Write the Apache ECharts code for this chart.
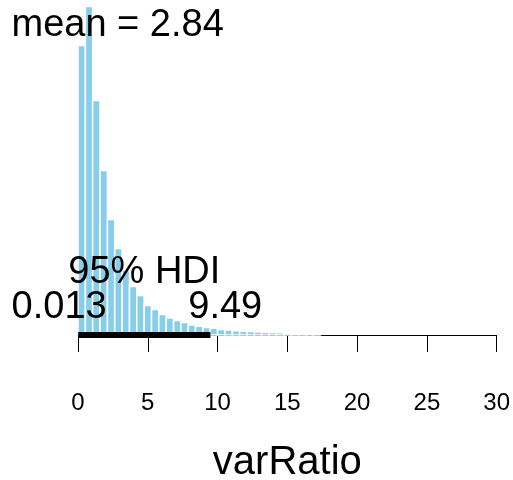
<!DOCTYPE html>
<html>
<head>
<meta charset="utf-8">
<script src="https://cdn.jsdelivr.net/npm/echarts@6/dist/echarts.min.js"></script>
<style>html,body{margin:0;padding:0;background:#fff;}#chart{width:513px;height:480px;}</style>
</head>
<body>
<div id="chart"></div>
<script>
// Histogram bin edges (varRatio)
var breaks = [0, 0.53, 1.05, 1.58, 2.11, 2.63, 3.16, 3.69, 4.21, 4.74, 5.27, 5.79, 6.32, 6.85, 7.37, 7.90, 8.42, 8.95, 9.48, 10.00, 10.53, 11.06, 11.58, 12.11, 12.64, 13.16, 13.69, 14.22, 14.74, 15.27, 15.80, 16.32, 16.85, 17.37];
// Relative bar heights
var heights = [289.5, 328.5, 234.5, 164.5, 115.5, 86.5, 65, 48.5, 39.5, 29.5, 25.5, 20.5, 17, 14.5, 12.5, 10, 8.7, 7.5, 6.7, 5.6, 4.9, 4.3, 3.8, 3.4, 3.0, 2.7, 2.4, 2.2, 1.7, 1.3, 1.0, 0.8, 0.6];
var xTicks = [0, 5, 10, 15, 20, 25, 30];
var meanVal = 2.84;
var hdi = [0.013, 9.49];
var hdiLabels = ["0.013", "9.49"];
var meanText = "mean = 2.84";
var hdiText = "95% HDI";
var xName = "varRatio";

var histData = heights.map(function (h, i) { return [breaks[i], breaks[i + 1], h]; });

var chart = echarts.init(document.getElementById('chart'), null, {renderer: 'canvas'});
var FONT = '"Liberation Sans", Arial, Helvetica, sans-serif';
var BIG = '38px ' + FONT;
chart.setOption({
  animation: false,
  backgroundColor: '#ffffff',
  grid: {left: 78, right: 15, top: 0, bottom: 145, containLabel: false},
  xAxis: {
    type: 'value', min: 0, max: 30, interval: 5, offset: 13,
    axisLine: {show: true, lineStyle: {color: '#000', width: 1}},
    axisTick: {show: true, length: 17, lineStyle: {color: '#000', width: 1}},
    axisLabel: {show: true, margin: 43, fontSize: 24, color: '#000', fontFamily: FONT,
      formatter: function (v) { return xTicks.indexOf(v) >= 0 ? String(v) : ''; }},
    splitLine: {show: false}
  },
  yAxis: {type: 'value', min: 0, max: 335, show: false, splitLine: {show: false}},
  series: [
    {
      type: 'custom',
      data: histData,
      encode: {x: [0, 1], y: 2},
      renderItem: function (params, api) {
        var p0 = api.coord([api.value(0), api.value(2)]);
        var p1 = api.coord([api.value(1), 0]);
        return {
          type: 'rect',
          shape: {x: p0[0], y: p0[1], width: p1[0] - p0[0], height: p1[1] - p0[1]},
          style: {fill: '#87CEEB', stroke: '#ffffff', lineWidth: 1.5}
        };
      },
      z: 2
    },
    {
      type: 'line',
      data: [[hdi[0], 0], [hdi[1], 0]],
      symbol: 'none',
      lineStyle: {color: '#000', width: 6, cap: 'butt'},
      z: 3
    }
  ]
});

function px(v) { return chart.convertToPixel({gridIndex: 0}, [v, 0])[0]; }
var mctx = document.createElement('canvas').getContext('2d');
mctx.font = BIG;
var wLo = mctx.measureText(hdiLabels[0]).width;
var wHi = mctx.measureText(hdiLabels[1]).width;
var hdiMid = (hdi[0] + hdi[1]) / 2;
var axisMid = (0 + 30) / 2;
chart.setOption({
  graphic: [
    {type: 'text', x: px(meanVal), y: 26, z: 10,
      style: {text: meanText, font: BIG, fill: '#000', align: 'center', verticalAlign: 'middle'}},
    {type: 'text', x: px(hdiMid), y: 273, z: 10,
      style: {text: hdiText, font: BIG, fill: '#000', align: 'center', verticalAlign: 'middle'}},
    {type: 'text', x: px(hdi[0]) - 0.7 * wLo, y: 308, z: 10,
      style: {text: hdiLabels[0], font: BIG, fill: '#000', align: 'left', verticalAlign: 'middle'}},
    {type: 'text', x: px(hdi[1]) - 0.3 * wHi, y: 308, z: 10,
      style: {text: hdiLabels[1], font: BIG, fill: '#000', align: 'left', verticalAlign: 'middle'}},
    {type: 'text', x: px(axisMid), y: 463, z: 10,
      style: {text: xName, font: '40px ' + FONT, fill: '#000', align: 'center', verticalAlign: 'middle'}}
  ]
});
</script>
</body>
</html>
